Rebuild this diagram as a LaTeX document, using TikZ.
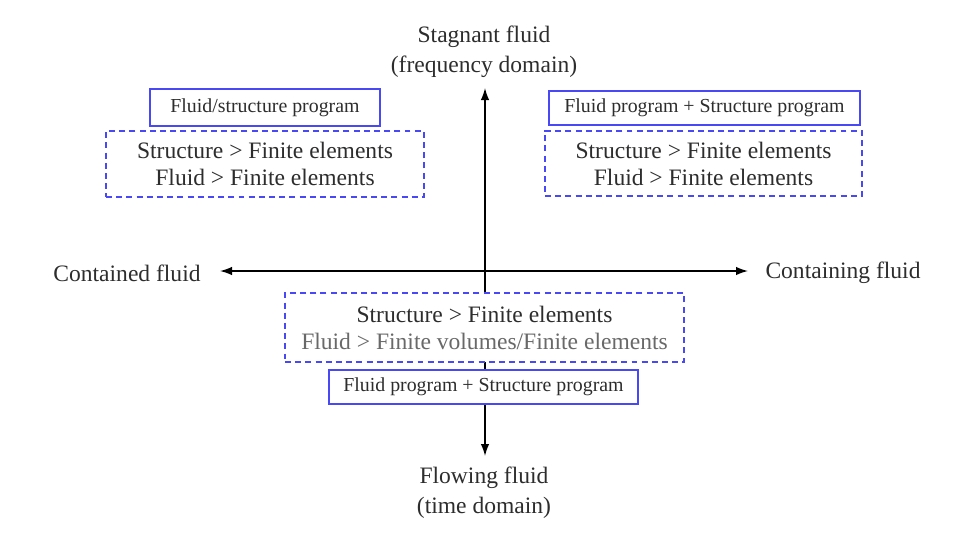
\documentclass[tikz,border=0pt]{standalone}
\usepackage{fontspec}
\setmainfont{Liberation Serif}
\usepackage{xcolor}
\usepackage{tikz}
\usetikzlibrary{arrows.meta, positioning, calc}
\definecolor{boxblue}{RGB}{72,72,245}
\definecolor{textgray}{RGB}{45,45,45}
\definecolor{lightgray_text}{RGB}{105,105,105}
\tikzset{
  prog_box/.style={rectangle, draw=boxblue, line width=1.1pt, fill=white, inner sep=2pt, text=textgray, font=\fontsize{11.3}{13}\selectfont},
  method_box/.style={rectangle, draw=boxblue, line width=0.7pt, dash pattern=on 3.4pt off 2.4pt, fill=white, align=center, inner sep=2pt, text=textgray, font=\fontsize{13.4}{15.4}\selectfont},
  axis_label/.style={align=center, text=textgray, font=\fontsize{13.4}{17}\selectfont},
  axis_arrow/.style={{Latex[length=2.4mm,width=1.7mm]}-{Latex[length=2.4mm,width=1.7mm]}, line width=0.8pt, black}
}

\begin{document}
\begin{tikzpicture}[x=0.02cm, y=-0.02cm]
      \useasboundingbox (0,0) rectangle (963,535);

      % --- Axes ---
      \coordinate (ax_top) at (485,88);
      \coordinate (ax_bottom) at (485,456);
      \coordinate (ax_left) at (220,271);
      \coordinate (ax_right) at (748,271);
      \draw[axis_arrow] (ax_left) -- (ax_right);
      \draw[axis_arrow] (ax_bottom) -- (ax_top);

      % --- Axis Labels ---
      \node[axis_label] (stagnant) at (484,52) {Stagnant fluid\\(frequency domain)};
      \node[axis_label] (flowing) at (484,493) {Flowing fluid\\(time domain)};
      \node[axis_label] (contained) at (127,273) {Contained fluid};
      \node[axis_label] (containing) at (843,273) {Containing fluid};

      % --- Top Left ---
      \node[prog_box, minimum width=4.6cm, minimum height=0.74cm] (prog_tl) at (265,107.5) {Fluid/structure program};
      \node[method_box, minimum width=6.36cm, minimum height=1.32cm] (meth_tl) at (265,164) {Structure > Finite elements\\Fluid > Finite elements};

      % --- Top Right ---
      \node[prog_box, minimum width=6.22cm, minimum height=0.68cm] (prog_tr) at (704.5,108) {Fluid program + Structure program};
      \node[method_box, minimum width=6.34cm, minimum height=1.3cm] (meth_tr) at (703.5,163.5) {Structure > Finite elements\\Fluid > Finite elements};

      % --- Bottom ---
      \node[method_box, minimum width=7.98cm, minimum height=1.38cm] (meth_b) at (484.5,327.5) {Structure > Finite elements\\\textcolor{lightgray_text}{Fluid > Finite volumes/Finite elements}};
      \node[prog_box, minimum width=6.18cm, minimum height=0.68cm] (prog_b) at (483.5,387) {Fluid program + Structure program};
    \end{tikzpicture}
\end{document}
